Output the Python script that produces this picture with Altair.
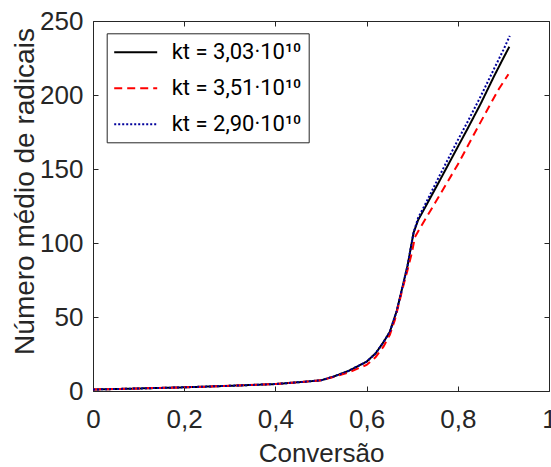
import altair as alt
import pandas as pd

# ---- data ----
series_names = ["kt = 3,03·10¹⁰", "kt = 3,51·10¹⁰", "kt = 2,90·10¹⁰"]
series_colors = ["#000000", "#ff0000", "#00009c"]
series_dash = [[1, 0], [8, 5], [2, 2]]

x_black = [0, 0.1, 0.2, 0.3, 0.4, 0.454, 0.5, 0.527, 0.56, 0.6, 0.62, 0.637, 0.651,
           0.666, 0.68, 0.69, 0.703, 0.713, 0.73, 0.76, 0.8, 0.82, 0.85, 0.88, 0.9, 0.913]
y_black = [1, 1.7, 2.5, 3.5, 4.7, 6, 7.2, 9.7, 13.5, 19.8, 25.5, 33, 40,
           54, 72, 85, 107, 115.5, 125, 142, 165, 176.4, 194, 213, 225, 232.6]

x_red = [0, 0.1, 0.2, 0.3, 0.4, 0.454, 0.5, 0.527, 0.56, 0.6, 0.62, 0.637, 0.651,
         0.662, 0.68, 0.69, 0.699, 0.706, 0.717, 0.75, 0.8, 0.84, 0.87, 0.89, 0.911]
y_red = [1, 1.7, 2.5, 3.5, 4.7, 6, 7.2, 9.4, 12.5, 17.6, 23, 30, 38,
         48, 70.5, 82, 93, 104, 110, 127, 153, 176, 193, 204, 214]

x_blue = [0, 0.1, 0.2, 0.3, 0.4, 0.454, 0.5, 0.527, 0.56, 0.6, 0.62, 0.637, 0.651,
          0.666, 0.68, 0.69, 0.703, 0.713, 0.73, 0.76, 0.8, 0.82, 0.85, 0.88, 0.9, 0.914]
y_blue = [1, 1.7, 2.5, 3.5, 4.7, 6, 7.2, 9.7, 13.5, 19.8, 25.5, 33, 40,
          54, 72, 85, 107, 117, 127, 145.5, 169.5, 181, 199, 218, 230.5, 240]

x_ticks = [0, 0.2, 0.4, 0.6, 0.8, 1]
y_ticks = [0, 50, 100, 150, 200, 250]

rows = []
for k, (xs, ys) in enumerate([(x_black, y_black), (x_red, y_red), (x_blue, y_blue)]):
    for i, (a, b) in enumerate(zip(xs, ys)):
        rows.append({"serie": series_names[k], "ord": k, "i": i, "x": a, "y": b})
df = pd.DataFrame(rows)

FONT = "Liberation Sans"
TXT = "#262626"

xscale = alt.Scale(domain=[0, 1], nice=False, zero=False)
yscale = alt.Scale(domain=[0, 250], nice=False, zero=False)

lines = alt.Chart(df).mark_line(strokeWidth=2, clip=True).encode(
    x=alt.X("x:Q", scale=xscale, axis=alt.Axis(
        orient="bottom", values=x_ticks,
        labelExpr="replace(format(datum.value, '.1~f'), '.', ',')",
        domain=False, offset=-5, tickSize=5, tickColor=TXT, tickWidth=1,
        labelFontSize=26, labelFont=FONT, labelColor=TXT, labelPadding=15,
        labelOverlap=False, labelFlush=False, labelBound=False, grid=False,
        title="Conversão", titleFontSize=26, titleFont=FONT, titleFontWeight="normal",
        titleColor=TXT, titleY=75, titleBaseline="alphabetic")),
    y=alt.Y("y:Q", scale=yscale, axis=alt.Axis(
        orient="left", values=y_ticks, domain=False, offset=-5, tickSize=5,
        tickColor=TXT, tickWidth=1, labelFontSize=26, labelFont=FONT, labelColor=TXT,
        labelPadding=10, labelOverlap=False, labelFlush=False, labelBound=False, grid=False,
        title="Número médio de radicais", titleFontSize=28, titleFont=FONT,
        titleFontWeight="normal", titleColor=TXT, titleX=-65, titleY=170,
        titleAngle=270, titleAlign="center", titleBaseline="alphabetic")),
    color=alt.Color("serie:N", scale=alt.Scale(domain=series_names, range=series_colors),
                    legend=alt.Legend(
                        title=None, orient="none", legendX=13.7, legendY=12.3,
                        fillColor="white", strokeColor=TXT, padding=7, cornerRadius=0,
                        symbolType="M-2,0H2", symbolSize=462, symbolStrokeWidth=2,
                        symbolOffset=10, labelOffset=24, rowPadding=13,
                        labelFontSize=22, labelFont="Roboto", labelColor="#000000",
                        labelLimit=400)),
    strokeDash=alt.StrokeDash("serie:N", scale=alt.Scale(domain=series_names, range=series_dash)),
    detail="ord:N",
    order=alt.Order("i:Q"),
)

frame = alt.Chart(df).mark_point(opacity=0).encode(
    x=alt.X("x:Q", scale=xscale, axis=alt.Axis(
        orient="top", values=x_ticks, labels=False, domain=False, offset=-5, tickSize=5,
        tickColor=TXT, grid=False, title=None)),
    y=alt.Y("y:Q", scale=yscale, axis=alt.Axis(
        orient="right", values=y_ticks, labels=False, domain=False, offset=-5, tickSize=5,
        tickColor=TXT, grid=False, title=None)),
)

chart = alt.layer(lines, frame).resolve_axis(x="independent", y="independent").properties(
    width=456, height=370,
    autosize=alt.AutoSizeParams(type="none"),
    padding={"left": 93, "top": 21, "right": 2, "bottom": 76},
    background="white",
).configure_view(stroke=TXT, strokeWidth=1)

chart.save("out.html", embed_options={"renderer": "svg", "actions": False})
